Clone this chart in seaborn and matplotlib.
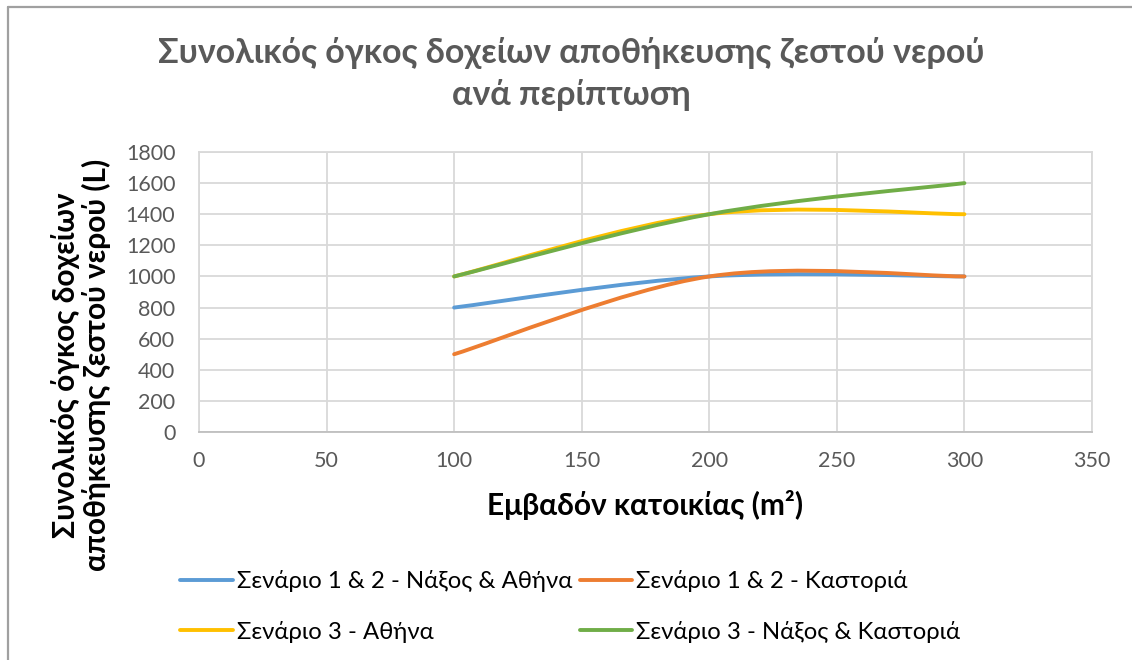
import numpy as np
import matplotlib
matplotlib.use("Agg")
import matplotlib.pyplot as plt
from matplotlib.path import Path
from matplotlib.patches import PathPatch
from matplotlib.lines import Line2D
import seaborn as sns

# Floor area of the dwelling (m²)
area = [100, 200, 300]

# Total hot-water storage volume (L) per scenario
s12_naxos_athens = [800, 1000, 1000]
s12_kastoria = [500, 1000, 1000]
s3_athens = [1000, 1400, 1400]
s3_naxos_kastoria = [1000, 1400, 1600]

series_labels = [
    "Σενάριο 1 & 2 - Νάξος & Αθήνα",
    "Σενάριο 1 & 2 - Καστοριά",
    "Σενάριο 3 - Αθήνα",
    "Σενάριο 3 - Νάξος & Καστοριά",
]
series_values = [s12_naxos_athens, s12_kastoria, s3_athens, s3_naxos_kastoria]
series_colors = ["#5B9BD5", "#ED7D31", "#FFC000", "#70AD47"]

x_ticks = [0, 50, 100, 150, 200, 250, 300, 350]
y_ticks = [0, 200, 400, 600, 800, 1000, 1200, 1400, 1600, 1800]

title_text = "Συνολικός όγκος δοχείων αποθήκευσης ζεστού νερού\nανά περίπτωση"
xlabel_text = "Εμβαδόν κατοικίας (m²)"
ylabel_text = "Συνολικός όγκος δοχείων\nαποθήκευσης ζεστού νερού (L)"

sns.set_theme(style="whitegrid")
plt.rcParams["font.family"] = ["Lato", "DejaVu Sans"]

W, H = 1132, 660
fig = plt.figure(figsize=(W / 100, H / 100), dpi=100)
fig.patch.set_facecolor("white")
ax = fig.add_axes([199 / W, 1 - 432 / H, (1092 - 199) / W, (432 - 152) / H])
ax.set_facecolor("white")


def smooth_path(xs, ys):
    """Cubic Bezier path through the points (spreadsheet-style smoothed line)."""
    pts = np.column_stack([xs, ys]).astype(float)
    n = len(pts)
    verts = [pts[0]]
    codes = [Path.MOVETO]
    for i in range(n - 1):
        p_prev = pts[max(i - 1, 0)]
        p0, p1 = pts[i], pts[i + 1]
        p_next = pts[min(i + 2, n - 1)]
        c1 = p0 + (p1 - p_prev) / 6.0
        c2 = p1 - (p_next - p0) / 6.0
        verts += [c1, c2, p1]
        codes += [Path.CURVE4] * 3
    return Path(verts, codes)


handles = []
for label, vals, color in zip(series_labels, series_values, series_colors):
    patch = PathPatch(smooth_path(area, vals), facecolor="none", edgecolor=color,
                      linewidth=2.8, capstyle="round", joinstyle="round",
                      transform=ax.transData, zorder=3)
    ax.add_patch(patch)
    handles.append(Line2D([], [], color=color, linewidth=2.8, solid_capstyle="round", label=label))

ax.set_xlim(0, 350)
ax.set_ylim(0, 1800)
ax.set_xticks(x_ticks)
ax.set_yticks(y_ticks)
ax.grid(True, color="#d9d9d9", linewidth=1.3)
for side, sp in ax.spines.items():
    sp.set_visible(True)
    sp.set_color("#d9d9d9")
    sp.set_linewidth(1.3)
ax.spines["bottom"].set_color("#bfbfbf")
ax.tick_params(axis="both", length=0, labelsize=15.5, labelcolor="#595959")
ax.tick_params(axis="y", pad=17)
ax.tick_params(axis="x", pad=14)

# Chart title
fig.text(571 / W, 1 - 74 / H, title_text, ha="center", va="center",
         fontsize=24.5, fontweight="bold", color="#595959", linespacing=1.36)

# Axis titles
fig.text(645 / W, 1 - 505 / H, xlabel_text, ha="center", va="center",
         fontsize=21.5, fontweight="bold", color="black")
fig.text(81 / W, 1 - 365 / H, ylabel_text, ha="center", va="center", rotation=90,
         fontsize=21.5, fontweight="bold", color="black", linespacing=1.05,
         multialignment="center")

# Legend below the plot, filled row by row
order = [0, 2, 1, 3]
fig.legend(handles=[handles[i] for i in order], loc="upper left",
           bbox_to_anchor=(180 / W, 1 - 570 / H),
           ncol=2, frameon=False, fontsize=17.2, handlelength=2.2, handletextpad=0.17,
           columnspacing=0.33, labelspacing=1.2, borderaxespad=0, borderpad=0,
           labelcolor="black")

# Chart frame (top and left edges)
fig.add_artist(Line2D([8 / W, 1], [1 - 7 / H, 1 - 7 / H], color="#a0a0a0", linewidth=1.6,
                      transform=fig.transFigure))
fig.add_artist(Line2D([8 / W, 8 / W], [0, 1 - 7 / H], color="#a0a0a0", linewidth=1.6,
                      transform=fig.transFigure))

fig.savefig("out.png", dpi=100, facecolor="white")
